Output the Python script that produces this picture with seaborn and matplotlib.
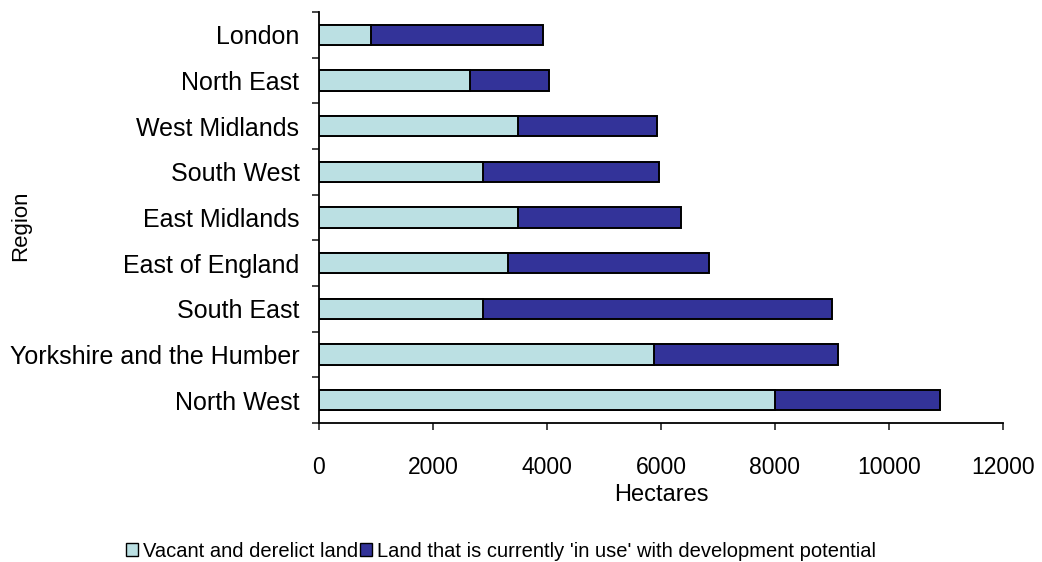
import matplotlib
matplotlib.use("Agg")
import matplotlib.pyplot as plt
import seaborn as sns
import pandas as pd
from matplotlib.patches import Patch
from matplotlib.ticker import FixedLocator

regions = ["London", "North East", "West Midlands", "South West", "East Midlands",
           "East of England", "South East", "Yorkshire and the Humber", "North West"]
vacant = [920, 2650, 3500, 2880, 3490, 3310, 2880, 5880, 8000]
in_use = [3010, 1380, 2430, 3080, 2860, 3540, 6120, 3220, 2900]

LIGHT = "#BBE0E3"
DARK = "#333399"

df = pd.DataFrame({"Region": regions, "Vacant": vacant, "InUse": in_use})
df["Total"] = df["Vacant"] + df["InUse"]

sns.set_style("white")
plt.rcParams["font.family"] = ["Liberation Sans", "DejaVu Sans"]
plt.rcParams["text.color"] = "black"

fig = plt.figure(figsize=(10.42, 5.62), dpi=100)
ax = fig.add_axes([0.306, 0.2473, 0.6566, 0.7313])

# Stacked bars: totals in dark, vacant share drawn over them in light
sns.barplot(data=df, x="Total", y="Region", order=regions, color=DARK,
            saturation=1, width=0.44, edgecolor="black", linewidth=1.4, ax=ax)
sns.barplot(data=df, x="Vacant", y="Region", order=regions, color=LIGHT,
            saturation=1, width=0.44, edgecolor="black", linewidth=1.4, ax=ax)

ax.set_xlim(0, 12000)
ax.set_ylim(len(regions) - 0.5, -0.5)
ax.set_xticks(range(0, 12001, 2000))
ax.tick_params(axis="x", labelsize=16.5, labelcolor="black", length=5, width=1.2,
               direction="out", bottom=True, pad=19)
ax.tick_params(axis="y", which="major", labelsize=18, labelcolor="black", length=0, pad=14)
ax.yaxis.set_minor_locator(FixedLocator([i - 0.5 for i in range(len(regions) + 1)]))
ax.tick_params(axis="y", which="minor", length=5, width=1.2, direction="out", left=True)

for s in ["top", "right"]:
    ax.spines[s].set_visible(False)
for s in ["left", "bottom"]:
    ax.spines[s].set_color("black")
    ax.spines[s].set_linewidth(1.3)

ax.set_xlabel("Hectares", fontsize=17, color="black", labelpad=3)
ax.set_ylabel("Region", fontsize=16, color="black")
ax.yaxis.set_label_coords(-0.42, 0.48)
ax.grid(False)

handles = [Patch(facecolor=LIGHT, edgecolor="black", linewidth=1),
           Patch(facecolor=DARK, edgecolor="black", linewidth=1)]
labels = ["Vacant and derelict land", "Land that is currently 'in use' with development potential"]
fig.legend(handles, labels, loc="lower center", bbox_to_anchor=(0.481, -0.03), ncol=2,
           frameon=False, prop={"size": 14.5}, labelcolor="black",
           handlelength=0.6, handleheight=0.65, handletextpad=0.25, columnspacing=0.1)

fig.savefig("out.png", dpi=100)
